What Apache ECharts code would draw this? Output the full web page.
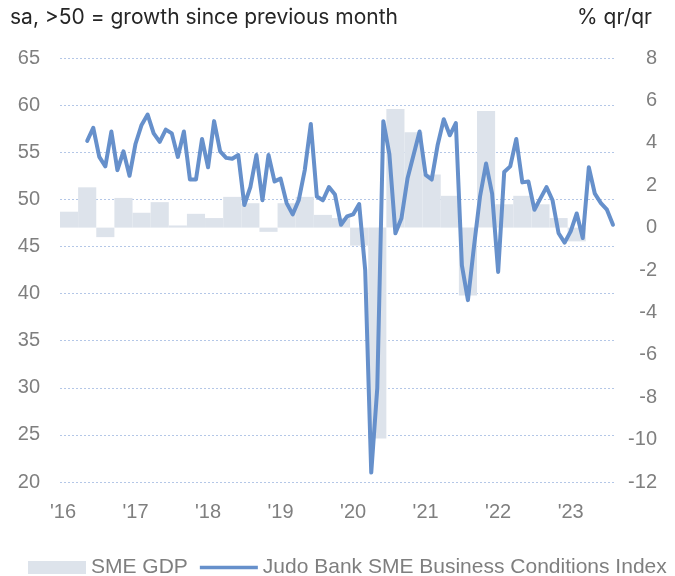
<!DOCTYPE html>
<html>
<head>
<meta charset="utf-8">
<script src="https://cdn.jsdelivr.net/npm/echarts@6/dist/echarts.min.js"></script>
<style>
  html, body { margin: 0; padding: 0; background: #fff; }
  #main { width: 675px; height: 576px; }
</style>
</head>
<body>
<div id="main"></div>
<script>
// months Jan 2016 .. Aug 2023 (category axis)
const months = [];
for (let y = 2016; y <= 2023; y++) {
  for (let m = 1; m <= 12; m++) {
    if (y === 2023 && m > 8) break;
    months.push(y + '-' + (m < 10 ? '0' + m : m));
  }
}

// Judo Bank SME Business Conditions Index, monthly (left axis)
const indexValues = [
  null, null, null, null, 56.2, 57.6, 54.5, 53.5, 57.2, 53.1, 55.1, 52.5,
  55.9, 57.9, 59.0, 57.0, 56.1, 57.4, 57.0, 54.5, 57.2, 52.1, 52.1, 56.4,
  53.4, 58.3, 55.1, 54.4, 54.3, 54.7, 49.4, 51.3, 54.7, 49.9, 54.7, 51.9,
  52.2, 49.6, 48.4, 49.9, 53.1, 58.0, 50.3, 49.9, 51.3, 50.5, 47.3, 48.2,
  48.4, 49.5, 42.5, 21.0, 30.0, 58.3, 54.8, 46.4, 48.0, 52.2, 54.7, 57.2,
  52.6, 52.1, 55.8, 58.5, 56.8, 58.1, 43.0, 39.3, 45.0, 50.3, 53.8, 50.6,
  42.3, 52.9, 53.5, 56.4, 51.8, 51.9, 48.9, 50.1, 51.3, 49.9, 46.4, 45.4,
  46.6, 48.5, 45.9, 53.4, 50.6, 49.6, 48.9, 47.3
];

// SME GDP, % q/q, quarterly Q1 2016 .. Q1 2023 (right axis)
const gdpValues = [
  0.75, 1.9, -0.45, 1.4,
  0.7, 1.2, 0.1, 0.65,
  0.45, 1.45, 1.15, -0.2,
  1.15, 1.45, 0.6, 0.45,
  -0.85, -9.95, 5.6, 4.5,
  2.5, 1.5, -3.2, 5.5,
  1.1, 1.5, 1.1, 0.45,
  -0.65
];

const leftTicks = { min: 20, max: 65, interval: 5 };
const rightTicks = { min: -12, max: 8, interval: 2 };

const labelColor = '#7f7f7f';
const labelFont = 'Liberation Sans';
const lineColor = '#6690cb';

// each quarter starts at its first month on the category axis
const gdpData = gdpValues.map((v, i) => [months[i * 3], v]);

const chart = echarts.init(document.getElementById('main'));

const option = {
  animation: false,
  backgroundColor: '#fff',
  title: [
    {
      text: 'sa, >50 = growth since previous month',
      left: 5, top: 2,
      textStyle: { fontFamily: 'Inter', fontSize: 21, fontWeight: 'normal', color: '#262626' }
    },
    {
      text: '% qr/qr',
      right: 18, top: 2,
      textStyle: { fontFamily: 'Inter', fontSize: 21, fontWeight: 'normal', color: '#262626' }
    }
  ],
  legend: {
    left: 23,
    top: 552,
    itemWidth: 58,
    itemHeight: 13,
    itemGap: 12,
    textStyle: { fontFamily: labelFont, fontSize: 21, color: labelColor },
    data: [
      { name: 'SME GDP', icon: 'rect' },
      { name: 'Judo Bank SME Business Conditions Index', icon: 'path://M0 0H58V3.5H0Z' }
    ]
  },
  grid: { left: 60, right: 59, top: 58, bottom: 94 },
  xAxis: {
    type: 'category',
    data: months,
    axisLine: { show: false },
    axisTick: { show: false },
    axisLabel: {
      interval: function (i) { return i % 12 === 0; },
      formatter: function (v) { return "'" + v.slice(2, 4); },
      margin: 20,
      fontFamily: labelFont,
      fontSize: 20,
      color: labelColor
    }
  },
  yAxis: [
    {
      type: 'value',
      min: leftTicks.min, max: leftTicks.max, interval: leftTicks.interval,
      axisLine: { show: false },
      axisTick: { show: false },
      axisLabel: { margin: 20, fontFamily: labelFont, fontSize: 20, color: labelColor },
      splitLine: { show: true, lineStyle: { color: '#b4c7e7', width: 1, type: [2, 2] } }
    },
    {
      type: 'value',
      min: rightTicks.min, max: rightTicks.max, interval: rightTicks.interval,
      position: 'right',
      axisLine: { show: false },
      axisTick: { show: false },
      axisLabel: { margin: 41, align: 'right', fontFamily: labelFont, fontSize: 20, color: labelColor },
      splitLine: { show: false }
    }
  ],
  series: [
    {
      name: 'SME GDP',
      type: 'custom',
      xAxisIndex: 0,
      yAxisIndex: 1,
      itemStyle: { color: '#dde3eb' },
      encode: { x: 0, y: 1 },
      data: gdpData,
      renderItem: function (params, api) {
        const top = api.coord([api.value(0), api.value(1)]);
        const base = api.coord([api.value(0), 0]);
        const w = api.size([1, 0])[0];
        return {
          type: 'rect',
          shape: {
            x: top[0] - w / 2,
            y: Math.min(top[1], base[1]),
            width: w * 3,
            height: Math.abs(base[1] - top[1])
          },
          style: api.style()
        };
      }
    },
    {
      name: 'Judo Bank SME Business Conditions Index',
      type: 'line',
      yAxisIndex: 0,
      symbol: 'none',
      lineStyle: { color: lineColor, width: 4, cap: 'round', join: 'round' },
      itemStyle: { color: lineColor },
      data: indexValues
    }
  ]
};

chart.setOption(option);
</script>
</body>
</html>
